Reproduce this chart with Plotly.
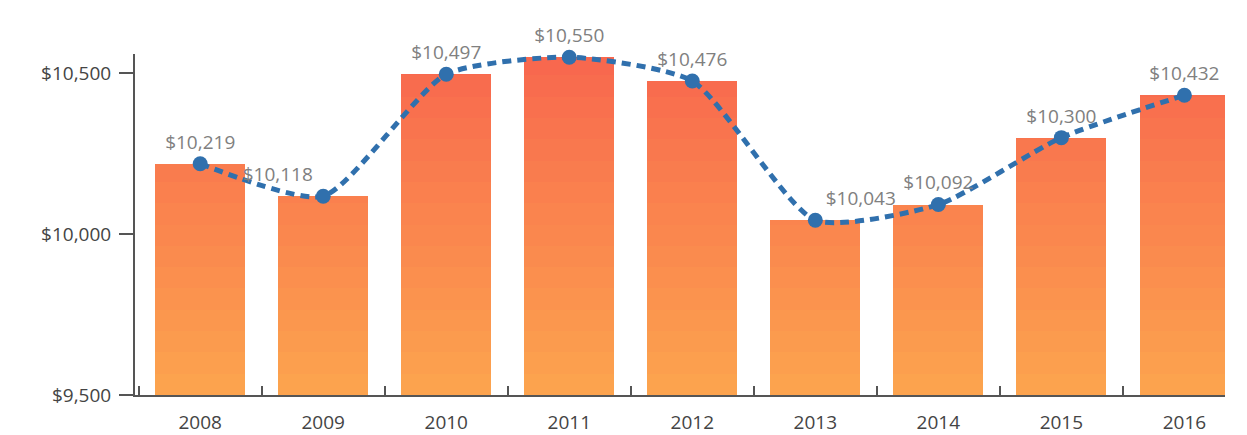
import plotly.graph_objects as go

years = ["2008", "2009", "2010", "2011", "2012", "2013", "2014", "2015", "2016"]
values = [10219, 10118, 10497, 10550, 10476, 10043, 10092, 10300, 10432]
labels = ["$10,219", "$10,118", "$10,497", "$10,550", "$10,476", "$10,043", "$10,092", "$10,300", "$10,432"]
label_pos = ["top center", "top left", "top center", "top center", "top center",
             "top right", "top center", "top center", "top center"]
y_tickvals = [9500, 10000, 10500]
y_ticktext = ["$9,500", "$10,000", "$10,500"]

BASE = 9500
TOP = 10560
fig = go.Figure()

# gradient bars: layered overlay bars, from red-orange (top) to orange (bottom)
top_rgb = (248, 104, 78)
bot_rgb = (252, 163, 78)
steps = 16
levels = [TOP - i * (TOP - BASE) / steps for i in range(steps)]
for i, lv in enumerate(levels):
    t = i / (steps - 1)
    c = tuple(round(top_rgb[k] + (bot_rgb[k] - top_rgb[k]) * t) for k in range(3))
    fig.add_trace(go.Bar(
        x=years,
        y=[min(v, lv) - BASE for v in values],
        base=BASE,
        marker=dict(color="rgb(%d,%d,%d)" % c, line=dict(width=0)),
        width=0.73,
        hoverinfo="skip",
        showlegend=False,
    ))

fig.add_trace(go.Scatter(
    x=years, y=values,
    mode="lines+markers+text",
    line=dict(color="#3070AD", width=5, dash="9px,6px", shape="spline", smoothing=0.6),
    marker=dict(color="#3070AD", size=15),
    text=labels,
    textposition=label_pos,
    textfont=dict(family="Open Sans", size=19, color="#808080"),
    cliponaxis=False,
    showlegend=False,
))

fig.update_layout(
    width=1247, height=435,
    margin=dict(l=127, r=30, t=46, b=48),
    barmode="overlay",
    bargap=0,
    plot_bgcolor="white",
    paper_bgcolor="white",
    font=dict(family="Open Sans", color="#444"),
    showlegend=False,
)
fig.update_xaxes(
    type="category",
    range=[-0.53, 8.33],
    showline=True, linecolor="#555", linewidth=2,
    ticks="inside", tickson="boundaries", ticklen=9, tickcolor="#555", tickwidth=2,
    tickfont=dict(family="Open Sans", size=19, color="#444"),
    ticklabelstandoff=9,
    automargin=False,
    showgrid=False, zeroline=False,
)
fig.update_yaxes(
    range=[BASE, TOP],
    tickvals=y_tickvals, ticktext=y_ticktext,
    showline=True, linecolor="#555", linewidth=2,
    ticks="outside", ticklen=14, tickcolor="#555", tickwidth=2,
    tickfont=dict(family="Open Sans", size=19, color="#444"),
    ticklabelstandoff=4,
    automargin=False,
    showgrid=False, zeroline=False,
)

fig.write_html("out.html")
